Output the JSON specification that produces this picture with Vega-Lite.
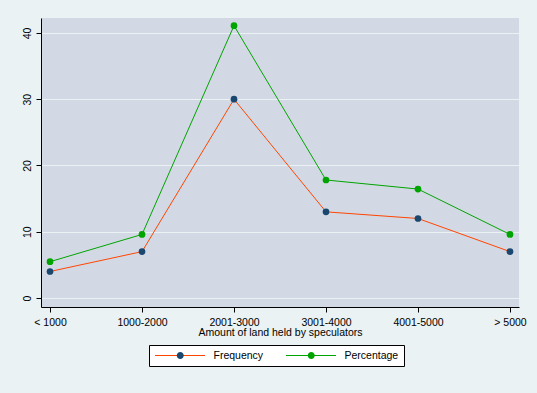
{
  "$schema": "https://vega.github.io/schema/vega-lite/v6.json",
  "width": 478,
  "height": 289,
  "autosize": {"type": "none"},
  "padding": {"left": 41, "top": 18, "right": 18, "bottom": 86},
  "background": "#eaf2f3",
  "config": {
    "font": "Liberation Sans",
    "view": {"stroke": null, "fill": "#d3d9e4"},
    "axis": {
      "domainColor": "#000000",
      "domainWidth": 1,
      "tickColor": "#000000",
      "tickSize": 5,
      "tickWidth": 1,
      "labelFont": "Liberation Sans",
      "labelFontSize": 10.5,
      "labelColor": "#000000",
      "titleFont": "Liberation Sans",
      "titleFontSize": 10.5,
      "titleFontWeight": "normal",
      "titleColor": "#000000"
    },
    "legend": {
      "labelFont": "Liberation Sans",
      "labelFontSize": 10.5,
      "labelColor": "#000000"
    }
  },
  "data": {
    "values": [
      {"cat": "< 1000", "series": "Frequency", "value": 4},
      {"cat": "1000-2000", "series": "Frequency", "value": 7},
      {"cat": "2001-3000", "series": "Frequency", "value": 30},
      {"cat": "3001-4000", "series": "Frequency", "value": 13},
      {"cat": "4001-5000", "series": "Frequency", "value": 12},
      {"cat": "> 5000", "series": "Frequency", "value": 7},
      {"cat": "< 1000", "series": "Percentage", "value": 5.48},
      {"cat": "1000-2000", "series": "Percentage", "value": 9.59},
      {"cat": "2001-3000", "series": "Percentage", "value": 41.1},
      {"cat": "3001-4000", "series": "Percentage", "value": 17.81},
      {"cat": "4001-5000", "series": "Percentage", "value": 16.44},
      {"cat": "> 5000", "series": "Percentage", "value": 9.59}
    ]
  },
  "encoding": {
    "x": {
      "field": "cat",
      "type": "ordinal",
      "sort": ["< 1000", "1000-2000", "2001-3000", "3001-4000", "4001-5000", "> 5000"],
      "scale": {"type": "point", "padding": 0.098},
      "axis": {
        "title": "Amount of land held by speculators",
        "labelAngle": 0,
        "labelPadding": 5,
        "titlePadding": 0,
        "grid": false
      }
    },
    "y": {
      "field": "value",
      "type": "quantitative",
      "scale": {"domain": [-1.36, 42.26], "nice": false, "zero": false},
      "axis": {
        "title": null,
        "values": [0, 10, 20, 30, 40],
        "labelAngle": -90,
        "labelPadding": 4,
        "grid": true,
        "gridColor": "#eaf2f3",
        "gridWidth": 1
      }
    }
  },
  "layer": [
    {
      "mark": {"type": "line", "strokeWidth": 1},
      "encoding": {
        "stroke": {
          "field": "series",
          "type": "nominal",
          "scale": {"domain": ["Frequency", "Percentage"], "range": ["#ff4500", "#00a400"]},
          "legend": {
            "orient": "none",
            "legendX": 108,
            "legendY": 327,
            "zindex": 0,
            "direction": "horizontal",
            "title": null,
            "symbolType": "M-5,0H5",
            "symbolSize": 100,
            "symbolStrokeWidth": 1,
            "symbolOffset": 20.5,
            "labelOffset": 28,
            "columnPadding": 20,
            "padding": 5,
            "strokeColor": "#000000",
            "fillColor": "#ffffff"
          }
        }
      }
    },
    {
      "mark": {"type": "point", "filled": true, "size": 45, "opacity": 1},
      "encoding": {
        "fill": {
          "field": "series",
          "type": "nominal",
          "scale": {"range": ["#1a476f", "#00a400"]},
          "legend": {
            "orient": "none",
            "legendX": 108,
            "legendY": 327,
            "zindex": 1,
            "direction": "horizontal",
            "title": null,
            "symbolType": "M-5,0H5M-0.7,0A0.7,0.7 0 1,0 0.7,0A0.7,0.7 0 1,0 -0.7,0Z",
            "symbolSize": 100,
            "symbolStrokeWidth": 0,
            "symbolOpacity": 1,
            "symbolOffset": 21,
            "labelOffset": 29,
            "labelOpacity": 0,
            "columnPadding": 20,
            "padding": 5,
            "strokeColor": "transparent",
            "fillColor": "transparent"
          }
        }
      }
    }
  ]
}
